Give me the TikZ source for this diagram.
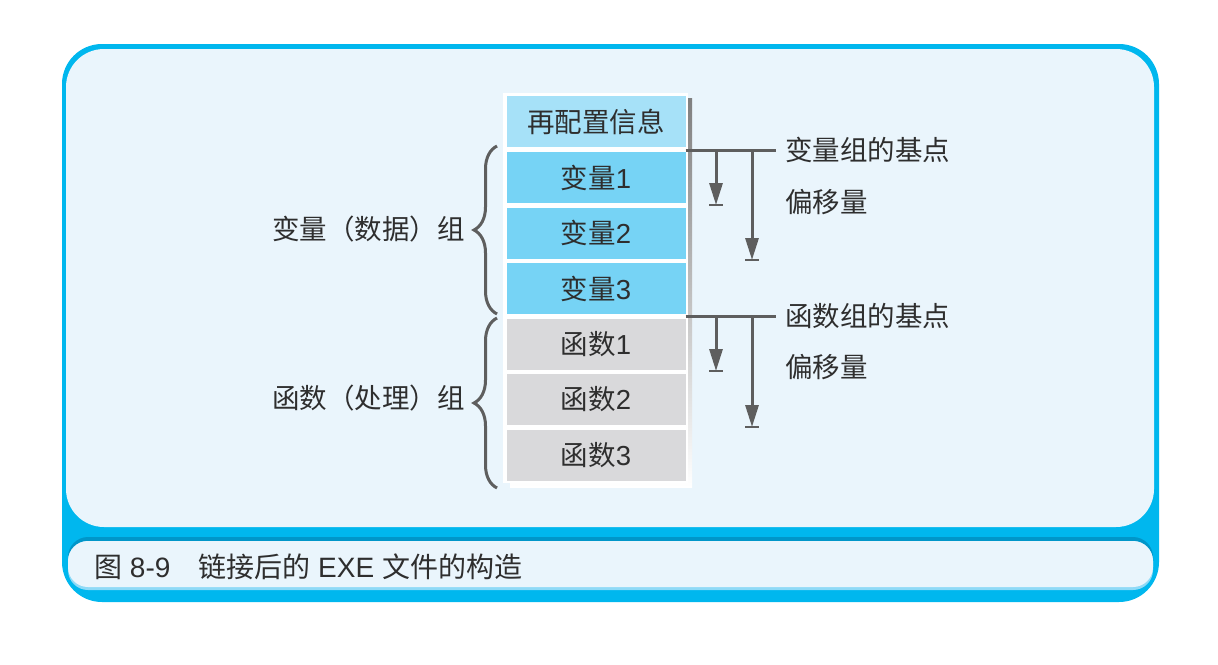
\documentclass[tikz,border=0pt]{standalone}
\usepackage{fontspec}
\setmainfont{Liberation Sans}
\newfontfamily\cjk{Noto Sans CJK SC}
\usetikzlibrary{arrows.meta,decorations.pathreplacing}
\definecolor{frame}{HTML}{00B7EE}
\definecolor{framedark}{HTML}{0096C9}
\definecolor{framelight}{HTML}{8FDAF7}
\definecolor{panel}{HTML}{EAF5FC}
\definecolor{hdr}{HTML}{A6E1F8}
\definecolor{varc}{HTML}{76D3F5}
\definecolor{func}{HTML}{D9D9DB}
\definecolor{ink}{HTML}{2E2E2E}
\definecolor{wire}{HTML}{5E5E5E}
\definecolor{shade}{HTML}{A3A3A3}
\begin{document}
\begin{tikzpicture}[x=1pt,y=-1pt,
  txt/.style={text=ink,font=\fontsize{27.5}{32}\selectfont,inner sep=0pt},
  captxt/.style={txt,font=\fontsize{28}{32}\selectfont},
  cell/.style={txt,minimum width=179pt,minimum height=51pt,anchor=center},
  conn/.style={draw=wire,line width=3pt},
  offsetarrow/.style={conn,-{Triangle[length=22pt,width=13pt]}},
  stopbar/.style={draw=wire,line width=2.5pt},
  bracket/.style={draw=wire,line width=3pt,decorate,
    decoration={brace,amplitude=23pt,aspect=0.5}}]
\useasboundingbox (0,0) rectangle (1218,664);
% frame and panels
\fill[frame,rounded corners=40pt] (62,44) rectangle (1159,602);
\fill[panel,rounded corners=38pt] (66,49) rectangle (1154,527);
\fill[framedark,rounded corners=20pt] (68,537) rectangle (1153,586);
\fill[framelight,rounded corners=20pt] (68,541) rectangle (1153,590);
\fill[panel,rounded corners=20pt] (68,541) rectangle (1153,587);
\node[captxt,anchor=west] (cap) at (94,567)
  {{\cjk 图} 8-9{\cjk 　链接后的} EXE {\cjk 文件的构造}};
% section stack
\fill[shade] (510,98) rectangle (692,487);
\fill[white] (503,93) rectangle (688,483);
\node[cell,fill=hdr]  (r0) at (596,121.5) {\cjk 再配置信息};
\node[cell,fill=varc] (v1) at (596,177.5) {{\cjk 变量}1};
\node[cell,fill=varc] (v2) at (596,233)   {{\cjk 变量}2};
\node[cell,fill=varc] (v3) at (596,288.5) {{\cjk 变量}3};
\node[cell,fill=func] (f1) at (596,344)   {{\cjk 函数}1};
\node[cell,fill=func] (f2) at (596,399.5) {{\cjk 函数}2};
\node[cell,fill=func] (f3) at (596,455)   {{\cjk 函数}3};
% base of the variable group and offsets
\coordinate (vb) at (776,150);
\coordinate (vs1) at (716,150);
\coordinate (vs2) at (752,150);
\coordinate (ve1) at (716,205);
\coordinate (ve2) at (752,260);
\draw[conn] (v1.north east |- vb) -- (vb);
\draw[offsetarrow] (vs1) -- (ve1);
\draw[offsetarrow] (vs2) -- (ve2);
\draw[stopbar] ([xshift=-7pt]ve1) -- ([xshift=7pt]ve1);
\draw[stopbar] ([xshift=-7pt]ve2) -- ([xshift=7pt]ve2);
\node[txt,anchor=west] (vbl) at (785,150) {\cjk 变量组的基点};
\node[txt,anchor=west] (vol) at (785,202) {\cjk 偏移量};
% base of the function group and offsets
\coordinate (fb) at (776,316);
\coordinate (fs1) at (716,316);
\coordinate (fs2) at (752,316);
\coordinate (fe1) at (716,371);
\coordinate (fe2) at (752,427);
\draw[conn] (f1.north east |- fb) -- (fb);
\draw[offsetarrow] (fs1) -- (fe1);
\draw[offsetarrow] (fs2) -- (fe2);
\draw[stopbar] ([xshift=-7pt]fe1) -- ([xshift=7pt]fe1);
\draw[stopbar] ([xshift=-7pt]fe2) -- ([xshift=7pt]fe2);
\node[txt,anchor=west] (fbl) at (785,316) {\cjk 函数组的基点};
\node[txt,anchor=west] (fol) at (785,367) {\cjk 偏移量};
% group braces
\coordinate (bv1) at (497,314);
\coordinate (bv2) at (497,146);
\coordinate (bf1) at (497,488);
\coordinate (bf2) at (497,318);
\draw[bracket] (bv1) -- (bv2);
\draw[bracket] (bf1) -- (bf2);
\node[txt,anchor=east] (vg) at (465,229) {\cjk 变量（数据）组};
\node[txt,anchor=east] (fg) at (465,398) {\cjk 函数（处理）组};
\end{tikzpicture}
\end{document}
